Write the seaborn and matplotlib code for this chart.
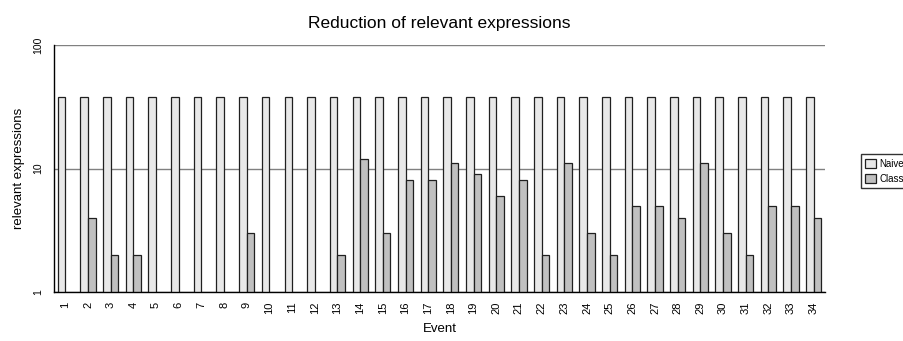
import numpy as np
import pandas as pd
import matplotlib
matplotlib.use("Agg")
import matplotlib.pyplot as plt
from matplotlib.ticker import FixedLocator, NullLocator
import seaborn as sns

sns.set_style("white", {"text.color": "black", "axes.labelcolor": "black",
                        "xtick.color": "black", "ytick.color": "black"})
plt.rcParams['font.family'] = ['Liberation Sans', 'DejaVu Sans']

# ------------------ Data ------------------
events = [str(i) for i in range(1, 35)]
naive = [38] * 34
nan = np.nan
klass = [nan, 4, 2, 2, nan, nan, nan, nan, 3, nan,
         nan, nan, 2, 12, 3, 8, 8, 11, 9, 6,
         8, 2, 11, 3, 2, 5, 5, 4, 11, 3,
         2, 5, 5, 4]
series_names = ["Naive", "Class"]

df = pd.DataFrame({
    "Event": events * 2,
    "Value": naive + klass,
    "Series": [series_names[0]] * 34 + [series_names[1]] * 34,
})

# ------------------ Plot ------------------
fig = plt.figure(figsize=(9.04, 3.41), dpi=100)
ax = fig.add_axes([0.0597, 0.1437, 0.853, 0.7243])

sns.barplot(data=df, x="Event", y="Value", hue="Series", order=events,
            hue_order=series_names, palette=["#E8E8E8", "#C0C0C0"],
            saturation=1, edgecolor="#202020", linewidth=0.9, width=0.67, ax=ax)

ax.set_yscale("log")
ax.set_ylim(1, 100)
ax.set_xlim(-0.5, len(events) - 0.5)
ax.yaxis.set_major_locator(FixedLocator([1, 10, 100]))
ax.yaxis.set_minor_locator(NullLocator())
ax.set_yticklabels(["1", "10", "100"], rotation=90, va="center", fontsize=7.5)
ax.grid(axis="y", color="#808080", linewidth=1.0)
ax.set_axisbelow(True)

ax.set_xticks(range(len(events)))
ax.set_xticklabels(events, rotation=90, fontsize=8)
ax.set_xticks(np.arange(-0.5, len(events)), minor=True)
ax.tick_params(axis="x", which="major", length=0, pad=7)
ax.tick_params(axis="x", which="minor", length=5, width=0.8, direction="out", color="black")
ax.tick_params(axis="y", which="major", length=5, width=0.8, direction="out", color="black", pad=3)

for side in ["top", "right"]:
    ax.spines[side].set_visible(False)
for side in ["left", "bottom"]:
    ax.spines[side].set_color("black")
    ax.spines[side].set_linewidth(1.0)

ax.set_xlabel("Event", fontsize=9.5, labelpad=6)
ax.set_ylabel("relevant expressions", fontsize=9.5, labelpad=6)
ax.set_title("Reduction of relevant expressions", fontsize=12.5, pad=12, color="black")

ax.legend(loc="center left", bbox_to_anchor=(0.952, 0.498),
          bbox_transform=fig.transFigure, fontsize=7, frameon=True,
          fancybox=False, edgecolor="black", handlelength=1.1,
          handleheight=1.1, borderpad=0.5, labelspacing=0.5,
          handletextpad=0.3, borderaxespad=0)

fig.savefig("out.png", dpi=100)
